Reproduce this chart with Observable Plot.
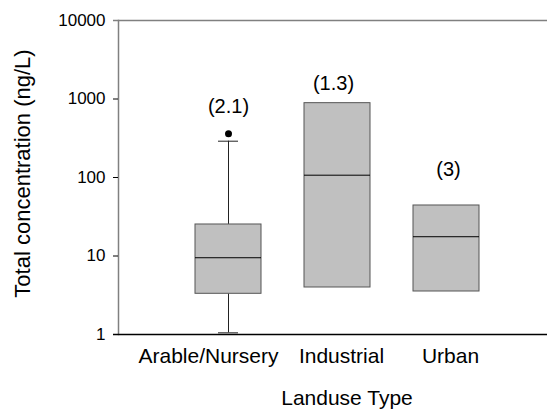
<!DOCTYPE html>
<html>
<head>
<meta charset="utf-8">
<script src="https://cdn.jsdelivr.net/npm/d3@7"></script>
<script src="https://cdn.jsdelivr.net/npm/@observablehq/plot@0.6"></script>
<style>
  html, body { margin: 0; padding: 0; background: #fff; }
  #chart svg { display: block; }
</style>
</head>
<body>
<div id="chart"></div>
<script>
// Categories and box statistics (ng/L)
const categories = ["Arable/Nursery", "Industrial", "Urban"];
const q1 = [3.3, 3.97, 3.53];
const median = [9.5, 107, 17.6];
const q3 = [25.2, 885, 44];
const whiskerLow = [1.05, null, null];
const whiskerHigh = [290, null, null];
const outliers = [{cat: "Arable/Nursery", value: 360}];
const labels = ["(2.1)", "(1.3)", "(3)"];
const yTicks = [1, 10, 100, 1000, 10000];

const boxes = categories.map((c, i) => ({
  cat: c, q1: q1[i], median: median[i], q3: q3[i],
  lo: whiskerLow[i], hi: whiskerHigh[i], label: labels[i],
  top: Math.max(q3[i], whiskerHigh[i] ?? 0, ...outliers.filter(o => o.cat === c).map(o => o.value))
}));
const withWhiskers = boxes.filter(d => d.lo != null);

const font = "'Liberation Sans', Arial, sans-serif";

const chart = Plot.plot({
  width: 547,
  height: 412,
  marginLeft: 118,
  marginRight: 0,
  marginTop: 20,
  marginBottom: 78,
  style: {fontFamily: font, background: "#fff", color: "#000"},
  x: {domain: categories, range: [173.5, 500.5], paddingInner: 0.395, paddingOuter: 0.1975, axis: null},
  y: {type: "log", domain: [1, 10000], axis: null},
  marks: [
    // whiskers
    Plot.ruleX(withWhiskers, {x: "cat", y1: "q3", y2: "hi", stroke: "#222", strokeWidth: 1}),
    Plot.ruleX(withWhiskers, {x: "cat", y1: "lo", y2: "q1", stroke: "#222", strokeWidth: 1}),
    Plot.tickY(withWhiskers, {x: "cat", y: "hi", stroke: "#222", insetLeft: 23, insetRight: 23}),
    Plot.tickY(withWhiskers, {x: "cat", y: "lo", stroke: "#222", insetLeft: 23, insetRight: 23}),
    // boxes
    Plot.barY(boxes, {x: "cat", y1: "q1", y2: "q3", fill: "#c0c0c0", stroke: "#555", strokeWidth: 1}),
    Plot.tickY(boxes, {x: "cat", y: "median", stroke: "#000", strokeWidth: 1}),
    // outliers
    Plot.dot(outliers, {x: "cat", y: "value", r: 3.5, fill: "#000", stroke: "none"}),
    // n labels
    Plot.text(boxes.filter(d => d.cat === categories[0]), {x: "cat", y: "top", text: "label", dy: -27, fontSize: 20, fill: "#000"}),
    Plot.text(boxes.filter(d => d.cat === categories[1]), {x: "cat", y: "top", text: "label", dy: -20, dx: -4, fontSize: 20, fill: "#000"}),
    Plot.text(boxes.filter(d => d.cat === categories[2]), {x: "cat", y: "top", text: "label", dy: -36, dx: 2, fontSize: 20, fill: "#000"}),
    // frame: left and top gray, bottom black
    Plot.frame({anchor: "left", stroke: "#808080", strokeWidth: 1.5}),
    Plot.ruleY([10000], {stroke: "#808080", strokeWidth: 1.5, insetLeft: -5}),
    Plot.ruleY([1], {stroke: "#000", strokeWidth: 1.5, insetLeft: -5}),
    // y axis
    Plot.axisY(yTicks, {tickSize: 0, tickPadding: 13, fontSize: 17, tickFormat: d => String(d), fill: "#000"}),
    Plot.axisY(yTicks.slice(1, -1), {tickSize: 5, text: null, stroke: "#000", label: null}),
    // category labels
    Plot.text([categories[0]], {x: d => d, frameAnchor: "bottom", dy: 28, dx: -20, fontSize: 21, fill: "#000"}),
    Plot.text(categories.slice(1), {x: d => d, frameAnchor: "bottom", dy: 28, dx: 4, fontSize: 21, fill: "#000"}),
    // axis titles
    Plot.text(["Landuse Type"], {frameAnchor: "bottom", dy: 70, dx: 14, fontSize: 21, fill: "#000"}),
    Plot.text(["Total concentration (ng/L)"], {frameAnchor: "left", textAnchor: "middle", dx: -96, dy: -4, rotate: -90, fontSize: 22, fill: "#000"})
  ]
});
document.getElementById("chart").appendChild(chart);
</script>
</body>
</html>
